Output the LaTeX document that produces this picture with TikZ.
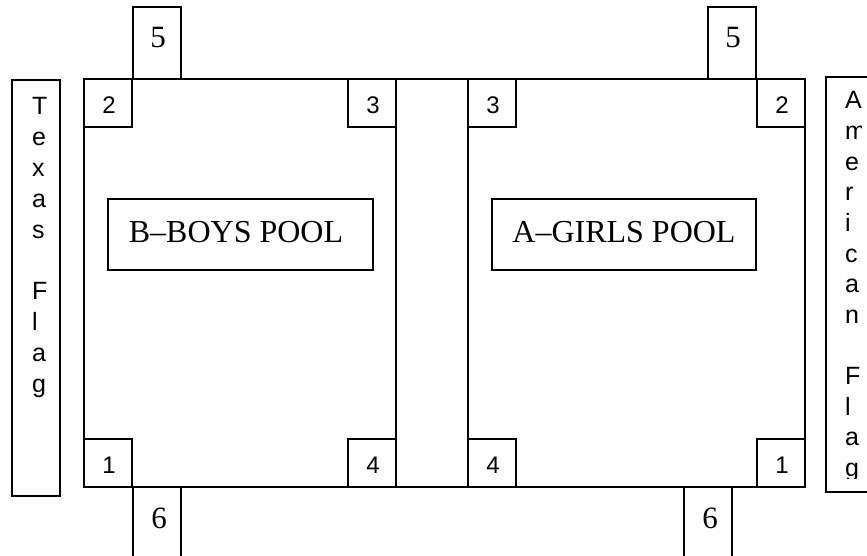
\documentclass[tikz,border=0pt]{standalone}
\usepackage{fontspec}
\setmainfont{Liberation Serif}
\newfontfamily\arialfont{Liberation Sans}
\begin{document}
\begin{tikzpicture}[x=1pt,y=-1pt,
  poolline/.style={draw, line width=1.8pt},
  cbox/.style={draw, line width=1.2pt},
  num/.style={font=\arialfont\fontsize{24}{28}\selectfont, inner sep=0pt, anchor=base},
  snum/.style={font=\fontsize{31}{36}\selectfont, inner sep=0pt, anchor=base},
  plabel/.style={font=\fontsize{32}{38}\selectfont, inner sep=0pt, anchor=base},
  lblbox/.style={draw, line width=1.2pt, inner sep=0pt},
  flagletter/.style={font=\arialfont\fontsize{25}{31}\selectfont, inner sep=0pt, anchor=base west}]
\useasboundingbox (0,0) rectangle (867,556);
\clip (0,0) rectangle (867,556);

% pools
\draw[poolline] (84,79) rectangle (396,487);
\draw[poolline] (468,79) rectangle (805,487);
\draw[poolline] (396,79) -- (468,79);
\draw[poolline] (396,487) -- (468,487);

% corner boxes
\foreach \bx/\by/\t/\n in {84/79/2/bTwo, 348/79/3/bThree, 84/439/1/bOne, 348/439/4/bFour,
                           468/79/3/gThree, 757/79/2/gTwo, 468/439/4/gFour, 757/439/1/gOne} {
  \draw[cbox] (\bx,\by) rectangle ++(48,48);
  \node[num] (\n) at (\bx+25,\by+34.5) {\t};
}

% boxes 5 and 6
\draw[cbox] (133,7) rectangle (181,79);
\node[snum] (bFive) at (158,48) {5};
\draw[cbox] (708,7) rectangle (756,79);
\node[snum] (gFive) at (733,48) {5};
\draw[cbox] (133,487) rectangle (181,580);
\node[snum] (bSix) at (159,528) {6};
\draw[cbox] (684,487) rectangle (732,580);
\node[snum] (gSix) at (710,528) {6};

% pool labels
\node[lblbox, minimum width=265pt, minimum height=71pt] (boysbox) at (240.5,234.5) {};
\node[plabel] (boys) at (236,242) {B–BOYS POOL};
\node[lblbox, minimum width=264pt, minimum height=71pt] (girlsbox) at (624,234.5) {};
\node[plabel] (girls) at (624,242) {A–GIRLS POOL};

% Texas flag
\draw[cbox] (12,80) rectangle (60,496);
\foreach \i/\l in {0/T,1/e,2/x,3/a,4/s,6/F,7/l,8/a,9/g}
  \node[flagletter] (tx\i) at (32,114.5+30.9*\i) {\l};

% American flag
\draw[cbox] (826,77) rectangle (890,492);
\begin{scope}
  \clip (826,77) rectangle (861,478);
  \foreach \i/\l in {0/A,1/m,2/e,3/r,4/i,5/c,6/a,7/n,9/F,10/l,11/a,12/g}
    \node[flagletter] (am\i) at (845,109+30.6*\i) {\l};
\end{scope}
\end{tikzpicture}
\end{document}
